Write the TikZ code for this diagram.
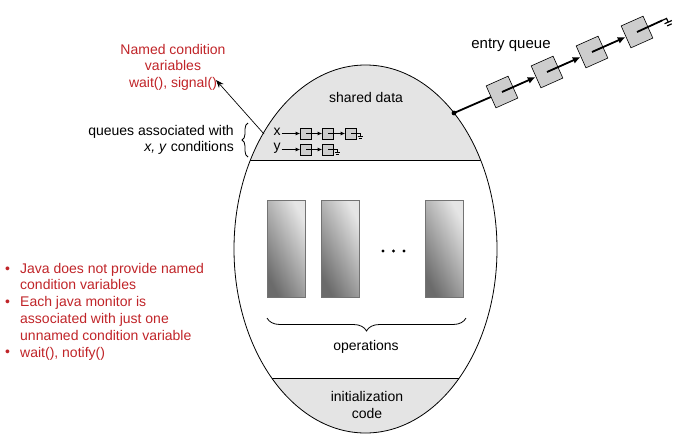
\documentclass[tikz,border=0pt]{standalone}
\usepackage{fontspec}
\setmainfont{Liberation Sans}
\usetikzlibrary{shapes.geometric,arrows.meta,decorations.pathreplacing}
\definecolor{redtxt}{RGB}{192,36,40}
\definecolor{bandgray}{RGB}{228,228,228}
\definecolor{boxgray}{RGB}{205,205,205}
\begin{document}
\begin{tikzpicture}[x=1pt,y=-1pt,
  every node/.style={font=\fontsize{14}{16.6}\selectfont, inner sep=0pt},
  sbox/.style={draw, fill=boxgray, minimum size=11pt, line width=0.6pt},
  ebox/.style={draw, fill=boxgray, minimum size=24pt, rotate=24, line width=0.6pt},
  oprect/.style={draw=black!55, line width=0.5pt, shading=axis, top color=black!10, bottom color=black!58, shading angle=-62},
  sarrow/.style={line width=0.9pt, -{Latex[length=4.5pt,width=4pt]}},
  earrow/.style={line width=1.8pt, -{Latex[length=8pt,width=7pt]}},
  redtext/.style={text=redtxt}]
\useasboundingbox (0,0) rectangle (685,437);

% monitor bands
\begin{scope}
  \clip (365.5,249) ellipse [x radius=131.5pt, y radius=184pt];
  \fill[bandgray] (200,40) rectangle (520,160);
  \fill[bandgray] (200,378) rectangle (520,440);
  \draw[line width=0.8pt] (200,160) -- (520,160);
  \draw[line width=0.8pt] (200,378) -- (520,378);
\end{scope}
\node[draw, ellipse, minimum width=263pt, minimum height=368pt, line width=0.8pt] (monitor) at (365.5,249) {};

% texts in monitor
\node (shared) at (366,97) {shared data};
\node[align=center] (init) at (367,405) {initialization\\code};
\node (ops) at (366,347) {operations};

% operations
\node[oprect, minimum width=38pt, minimum height=97pt] (op1) at (286,248.5) {};
\node[oprect, minimum width=38pt, minimum height=97pt] (op2) at (340,248.5) {};
\node[oprect, minimum width=38pt, minimum height=97pt] (op3) at (444,248.5) {};
\fill (383,251) circle (1.6pt) (393.5,251) circle (1.6pt) (404,251) circle (1.6pt);
\coordinate (bl) at (267,318);
\coordinate (br) at (466,318);
\draw[line width=0.8pt, decorate, decoration={brace, amplitude=13pt, mirror}] (bl) -- (br);

% condition queues
\node (lx) at (277,132) {x};
\node (ly) at (277,148) {y};
\node[sbox] (x1) at (306,133.5) {};
\node[sbox] (x2) at (328,133.5) {};
\node[sbox] (x3) at (351,133.5) {};
\node[sbox] (y1) at (306,149.5) {};
\node[sbox] (y2) at (328,149.5) {};
\draw[sarrow] (lx.east) ++(1,1.5) -- (x1.west);
\draw[sarrow] (ly.east) ++(1,1.5) -- (y1.west);
\draw[sarrow] (x1.center) -- (x2.west);
\draw[sarrow] (x2.center) -- (x3.west);
\draw[sarrow] (y1.center) -- (y2.west);
\draw[line width=0.7pt] (x3.center) -- ++(9,0) -- ++(0,3) ++(-2.5,0) -- ++(5,0) ++(-4,1.5) -- ++(3,0);
\draw[line width=0.7pt] (y2.center) -- ++(9,0) -- ++(0,3) ++(-2.5,0) -- ++(5,0) ++(-4,1.5) -- ++(3,0);

% queue label
\draw[line width=0.8pt, decorate, decoration={brace, amplitude=6pt}] (248,157) -- (248,123);
\node[align=right, anchor=east] (qlabel) at (234,140) {queues associated with\\\textit{x, y} conditions};

% named condition text
\node[align=center, redtext] (named) at (173,67) {Named condition\\variables\\wait(), signal()};
\coordinate (qsrc) at (264,134);
\coordinate (atip) at (216,80);
\draw[line width=0.7pt, -{Stealth[length=8pt,width=6pt]}] (qsrc) -- (atip);

% entry queue
\coordinate (edot) at (454,113);
\fill (edot) circle (2.4pt);
\node[ebox] (e1) at (502,92) {};
\node[ebox] (e2) at (547,72) {};
\node[ebox] (e3) at (592,52) {};
\node[ebox] (e4) at (637,32) {};
\draw[line width=1.8pt] (edot) -- (e1.west);
\draw[earrow] (e1.center) -- (e2.west);
\draw[earrow] (e2.center) -- (e3.west);
\draw[earrow] (e3.center) -- (e4.west);
\coordinate (eend) at (662,20.5);
\draw[line width=1.8pt] (e4.center) -- (eend);
\begin{scope}[shift={(eend)}, rotate=24]
  \draw[line width=1.2pt] (-1,0) -- (5,0) -- (5,4);
  \draw[line width=1.2pt] (1,4) -- (9,4) (2.5,7) -- (7.5,7);
\end{scope}
\node[font=\fontsize{15}{18}\selectfont] (eq) at (511,45) {entry queue};

% bullets
\begin{scope}[every node/.append style={redtext, anchor=base west}]
  \node (d1) at (5,273) {•};
  \node (d2) at (5,306.6) {•};
  \node (d3) at (5,356.8) {•};
  \node (t1a) at (20,273) {Java does not provide named};
  \node (t1b) at (20,289.8) {condition variables};
  \node (t2a) at (20,306.6) {Each java monitor is};
  \node (t2b) at (20,323.4) {associated with just one};
  \node (t2c) at (20,340.2) {unnamed condition variable};
  \node (t3a) at (20,357) {wait(), notify()};
\end{scope}
\end{tikzpicture}
\end{document}
